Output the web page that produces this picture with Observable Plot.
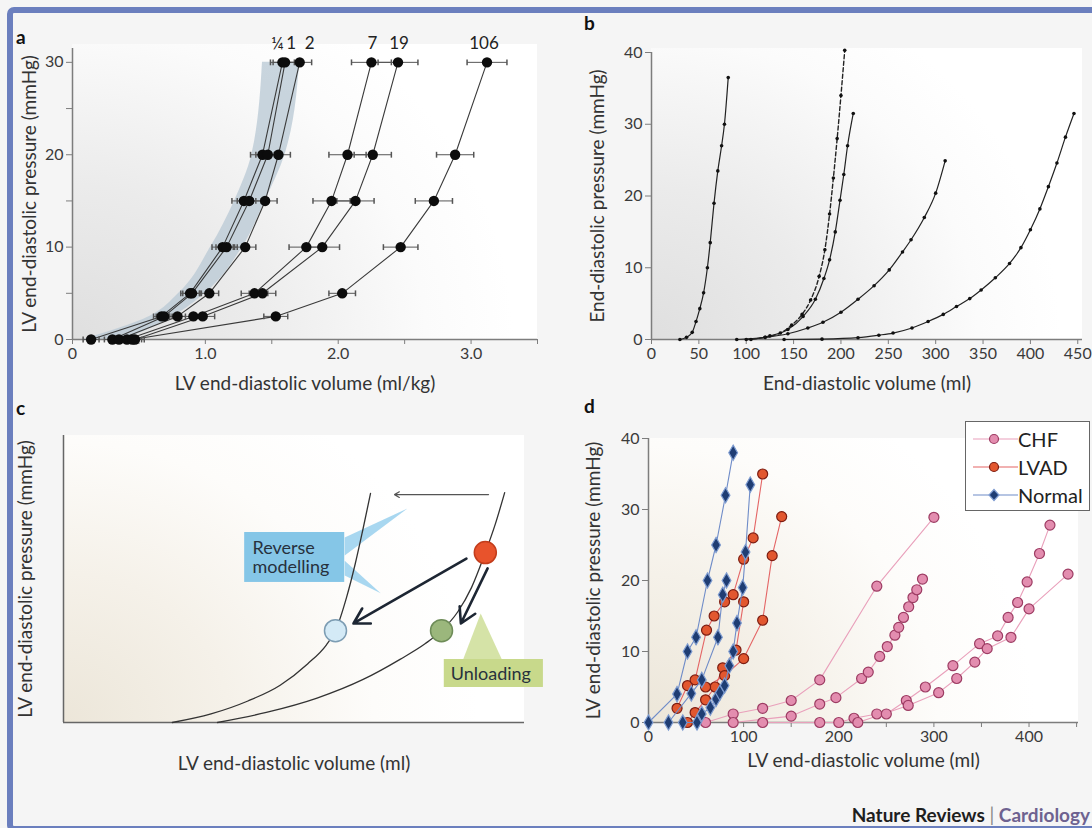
<!DOCTYPE html>
<html>
<head>
<meta charset="utf-8">
<script src="https://cdn.jsdelivr.net/npm/d3@7"></script>
<script src="https://cdn.jsdelivr.net/npm/@observablehq/plot@0.6"></script>
<style>
  html,body{margin:0;padding:0;background:#fff;}
  #root{position:relative;width:1092px;height:828px;overflow:hidden;background:#f5f5f5;font-family:Lato,"Open Sans",sans-serif;}
  #frame{position:absolute;left:7px;top:7px;width:1110px;height:813px;border:6px solid #6b7fbe;border-radius:7px;pointer-events:none;}
  .bg{position:absolute;}
  .panel{position:absolute;}
  .panel svg{overflow:visible;}
  .tag{position:absolute;font-weight:700;font-size:19px;color:#111;line-height:1;}
  #legend{position:absolute;left:965px;top:421px;width:123px;height:88px;border:1px solid #666;background:#fff;}
  .lrow{position:absolute;left:0;height:28px;display:flex;align-items:center;font-size:20px;color:#222;}
  #footer{position:absolute;right:2px;top:803px;font-size:19px;font-weight:700;white-space:nowrap;}
</style>
</head>
<body>
<div id="root">
  <div class="bg" style="left:72px;top:44px;width:465px;height:295px;background:radial-gradient(ellipse 95% 130% at 0% 100%,#dfdfdf 0%,#ebebeb 40%,#fbfbfb 80%,#ffffff 100%);"></div>
  <div class="bg" style="left:651px;top:48px;width:431px;height:291px;background:radial-gradient(ellipse 95% 130% at 0% 100%,#dfdfdf 0%,#ebebeb 40%,#fbfbfb 80%,#ffffff 100%);"></div>
  <div class="bg" style="left:63px;top:435px;width:461px;height:287px;background:radial-gradient(ellipse 90% 130% at 0% 100%,#ece6d9 0%,#f5f1e9 40%,#fdfcfa 75%,#ffffff 100%);"></div>
  <div class="bg" style="left:648px;top:438px;width:430px;height:284px;background:radial-gradient(ellipse 90% 130% at 0% 100%,#ece6d9 0%,#f5f1e9 40%,#fdfcfa 75%,#ffffff 100%);"></div>
  <div class="panel" id="pa" style="left:0;top:0;"></div>
  <div class="panel" id="pb" style="left:560px;top:0;"></div>
  <div class="panel" id="pc" style="left:0;top:400px;"></div>
  <div class="panel" id="pd" style="left:560px;top:400px;"></div>
  <div class="tag" style="left:16px;top:27px;">a</div>
  <div class="tag" style="left:584px;top:13px;">b</div>
  <div class="tag" style="left:16px;top:398px;">c</div>
  <div class="tag" style="left:584px;top:396px;">d</div>
  <div id="legend"></div>
  <div id="footer"><span style="color:#1e1e1e">Nature Reviews</span> <span style="color:#8a8a8a;font-weight:400">|</span> <span style="color:#6e6290">Cardiology</span></div>
  <div id="frame"></div>
</div>
<script>
// ---------------- Panel a data ----------------
const aPressures = [0, 2.5, 5, 10, 15, 20, 30];
const aSeriesLabels = ["¼", "1", "2", "7", "19", "106"];
const aQuarter  = [0.14, 0.67, 0.885, 1.13, 1.29, 1.43, 1.58];
const aOne      = [0.30, 0.69, 0.90, 1.16, 1.33, 1.47, 1.60];
const aTwo      = [0.35, 0.79, 1.03, 1.30, 1.45, 1.55, 1.71];
const aSeven    = [0.41, 0.91, 1.37, 1.76, 1.95, 2.07, 2.25];
const aNineteen = [0.47, 0.98, 1.43, 1.88, 2.13, 2.26, 2.45];
const aHundred  = [0.45, 1.53, 2.03, 2.47, 2.72, 2.88, 3.12];
const aErrSmall = [0.06, 0.06, 0.07, 0.08, 0.09, 0.09, 0.09];
const aErrLarge = [0.07, 0.09, 0.10, 0.13, 0.14, 0.14, 0.15];
const aBandLow  = [0.08, 0.58, 0.80, 1.04, 1.22, 1.35, 1.43];
const aBandHigh = [0.40, 0.76, 1.00, 1.28, 1.45, 1.60, 1.71];
const aXTicks = [0, 0.5, 1, 1.5, 2, 2.5, 3, 3.5];
const aYTicks = [0, 5, 10, 15, 20, 25, 30];

// ---------------- Panel b data ----------------
const bNormal   = [[30,0],[37,0.3],[43,1],[47,2.5],[51,4.3],[55,6.5],[59,10],[62,13.5],[66,19],[70,23.5],[74,27],[77,30],[81,36.5]];
const bDashed   = [[100,0],[120,0.3],[136,0.9],[148,2],[159,3.5],[168,5.5],[177,8.8],[183,12.5],[188,17.5],[192,22.5],[196,28],[200,34],[204,40.3]];
const bMid      = [[105,0],[125,0.5],[144,1.4],[160,3.2],[173,5.6],[182,8.5],[188,11.1],[194,15],[199,19.4],[203,23],[207,27],[213,31.5]];
const bDilated  = [[90,0],[120,0.3],[144,0.8],[165,1.6],[181,2.4],[200,3.8],[218,5.6],[235,7.5],[251,9.7],[265,12.2],[274,13.9],[288,17],[300,20.4],[310,24.9]];
const bSevere   = [[140,0],[180,0.05],[218,0.25],[240,0.6],[255,0.9],[275,1.6],[292,2.5],[308,3.5],[322,4.6],[336,5.7],[348,6.9],[363,8.6],[378,10.6],[390,12.8],[400,15.3],[410,18.2],[419,21.3],[428,24.6],[437,28.2],[446,31.5]];
const bXTicks = [0,50,100,150,200,250,300,350,400,450];
const bYTicks = [0,10,20,30,40];

// ---------------- Panel c data (schematic units) ----------------
const cRemodelled = [[23.6,0],[32,3],[40,7.5],[47,13],[53,20.5],[57,27],[59,32],[61.4,43.6],[63.3,55.4],[64.9,66.9],[66.6,79.8]];
const cFailing    = [[33.4,0],[44,3.5],[55,8.5],[65,15],[73,22],[78.5,27.5],[82,32],[85.5,38.5],[88.5,47],[91.5,59.2],[93.7,69.3],[95.7,80.1]];
const cStates     = [{name:"failing", x:91.5, y:59.2}, {name:"remodelled", x:59, y:32}, {name:"unloaded", x:82, y:32}];
const cShiftArrow = [{x1:92.2, y1:79.4, x2:71.8, y2:79.4}];
const cBoldArrows = [{x1:87.4, y1:57.1, x2:62.9, y2:34.5}, {x1:92, y1:53.7, x2:86.2, y2:34.5}];
const cBoxes      = [{name:"Reverse\nmodelling", x1:39.3, x2:61, y1:48.8, y2:66.2, tx:41.0, ty:57.6},
                     {name:"Unloading", x1:82.6, x2:104.1, y1:12.2, y2:21.95, tx:84.0, ty:16.9}];
const cWedgeUp    = [[61,64.5],[61,58.2],[74.6,74.6]];
const cWedgeDown  = [[61,56.4],[61,51.2],[68.8,45]];
const cWedgeGreen = [[86.6,21.6],[95.2,21.6],[90.5,38]];

// ---------------- Panel d data ----------------
const dNormal1 = [[0,0],[30,4],[41,10],[50,12],[62,20],[71,25],[81,32],[89,38]];
const dNormal2 = [[21,0],[45,4.1],[56,6],[73,12],[78,18],[82,20]];
const dNormal3 = [[36,0],[51,0],[56,1.2],[65,2.1],[71,3.3],[75,4.2],[80,5.2],[85,8],[89,10],[93,14],[99,19],[102,24],[107,33.5]];
const dLvad1 = [[30,2],[41,5.2],[49,6],[61,13],[69,15],[80,17],[89,18],[100,23],[110,26],[120,35]];
const dLvad2 = [[41,0],[49,1.4],[60,3.2],[70,5],[78,7.7],[92,10.2],[100,17]];
const dLvad3 = [[60,5],[80,6.6],[100,9],[120,14.4],[130,23.5],[140,29]];
const dChf1 = [[60,0],[89,1.2],[120,2],[150,3.1],[180,6],[240,19.2],[300,28.9]];
const dChf2 = [[89,0],[150,0.9],[180,2.6],[197,3.5],[224,6.2],[231,7.1],[243,9.3],[251,10.7],[259,12.3],[263,13.4],[268,14.8],[273.5,16.3],[278,17.6],[282,18.7],[288,20.2]];
const dChf3 = [[120,0],[180,0],[200,0],[216,0.6],[240,1.2],[250,1.2],[271,3.1],[291,5],[320,8],[348,11.1],[367,12.2],[378,14.8],[388,16.9],[398,19.8],[411,23.8],[422,27.8]];
const dChf4 = [[220,0],[273,2.4],[305,4.2],[324,6.2],[343,8.5],[356,10.4],[381,12],[400,16],[441,20.9]];
const dGroups = ["CHF", "LVAD", "Normal"];
const dXTicks = [0,50,100,150,200,250,300,350,400,450];
const dYTicks = [0,10,20,30,40];

// ---------------- helpers ----------------
const FONT = "Lato, 'Open Sans', sans-serif";
const AX = "#7d7d7d";
const TXT = "#3a3a3a";
const TICKFS = "16px";
const toRows = (pts, s) => pts.map(([x, y]) => ({x, y, s}));
const capSymbol = {draw(ctx, size) { const h = Math.sqrt(size) * 0.55; ctx.moveTo(0, -h); ctx.lineTo(0, h); }};
const xLabel = (t, dy) => Plot.text([t], {frameAnchor: "bottom", dy, fontSize: 19, fill: "#333", lineAnchor: "middle", textAnchor: "middle"});
const yLabel = (t, dx) => Plot.text([t], {frameAnchor: "left", dx, rotate: -90, fontSize: 19, fill: "#333", lineAnchor: "middle", textAnchor: "middle"});

// ---------------- Panel a ----------------
const aSeries = [aQuarter, aOne, aTwo, aSeven, aNineteen, aHundred];
const aErr = [aErrSmall, aErrSmall, aErrSmall, aErrLarge, aErrLarge, aErrLarge];
const aRows = aSeries.flatMap((vals, i) => vals.map((v, j) => ({s: aSeriesLabels[i], v, p: aPressures[j], e: aErr[i][j]})));
const aBand = aPressures.map((p, j) => ({p, lo: aBandLow[j], hi: aBandHigh[j]}));
const aTop = aSeries.map((vals, i) => ({s: aSeriesLabels[i], v: vals[vals.length - 1], p: aPressures[aPressures.length - 1]}));
const aLabelDx = [-5, 6, 10, 1, 1, -3];

const plotA = Plot.plot({
  width: 560, height: 400,
  marginLeft: 72, marginRight: 23, marginTop: 48, marginBottom: 61,
  style: {background: "transparent", fontFamily: FONT, fontSize: TICKFS, color: TXT, overflow: "visible"},
  x: {domain: [0, 3.5]},
  y: {domain: [0, 31.5]},
  marks: [
    Plot.areaX(aBand, {y: "p", x1: "lo", x2: "hi", curve: "monotone-y", fill: "#bccad6", fillOpacity: 0.8}),
    Plot.ruleY([0], {stroke: AX, strokeWidth: 1.5}),
    Plot.ruleX([0], {stroke: AX, strokeWidth: 1.5}),
    Plot.axisX({ticks: aXTicks, tickSize: 5, tickPadding: 3, stroke: AX, fill: TXT, label: null,
      tickFormat: d => d === 0 ? "0" : (Number.isInteger(d) ? d.toFixed(1) : "")}),
    Plot.axisY({ticks: aYTicks, tickSize: 6, tickPadding: 3, stroke: AX, fill: TXT, label: null,
      tickFormat: d => d % 10 === 0 ? String(d) : ""}),
    Plot.line(aRows, {x: "v", y: "p", z: "s", stroke: "#3a3a3a", strokeWidth: 1.1}),
    Plot.link(aRows, {x1: d => d.v - d.e, x2: d => d.v + d.e, y1: "p", y2: "p", stroke: "#555", strokeWidth: 1}),
    Plot.dot(aRows, {x: d => d.v - d.e, y: "p", symbol: capSymbol, r: 3, stroke: "#555", fill: "none"}),
    Plot.dot(aRows, {x: d => d.v + d.e, y: "p", symbol: capSymbol, r: 3, stroke: "#555", fill: "none"}),
    Plot.dot(aRows, {x: "v", y: "p", r: 5.2, fill: "#0c0c0c", stroke: "none"}),
    ...aTop.map((d, i) => Plot.text([d], {x: "v", y: "p", text: "s", dy: -19, dx: aLabelDx[i], fontSize: 17, fill: "#222"})),
    xLabel("LV end-diastolic volume (ml/kg)", 44),
    yLabel("LV end-diastolic pressure (mmHg)", -43)
  ]
});
document.getElementById("pa").appendChild(plotA);

// ---------------- Panel b ----------------
const bAll = [
  ...toRows(bNormal, "normal"), ...toRows(bMid, "mid"), ...toRows(bDilated, "dilated"), ...toRows(bSevere, "severe")
];
const plotB = Plot.plot({
  width: 532, height: 400,
  marginLeft: 91, marginRight: 10, marginTop: 52, marginBottom: 61,
  style: {background: "transparent", fontFamily: FONT, fontSize: TICKFS, color: TXT, overflow: "visible"},
  x: {domain: [0, 455]},
  y: {domain: [0, 40]},
  marks: [
    Plot.ruleY([0], {stroke: AX, strokeWidth: 1.5}),
    Plot.ruleX([0], {stroke: AX, strokeWidth: 1.5}),
    Plot.axisX({ticks: bXTicks, tickSize: 5, tickPadding: 3, stroke: AX, fill: TXT, label: null}),
    Plot.axisY({ticks: bYTicks, tickSize: 6, tickPadding: 3, stroke: AX, fill: TXT, label: null}),
    Plot.line(bAll, {x: "x", y: "y", z: "s", curve: "monotone-x", stroke: "#222", strokeWidth: 1.2}),
    Plot.line(toRows(bDashed, "dashed"), {x: "x", y: "y", curve: "monotone-x", stroke: "#222", strokeWidth: 1.4, strokeDasharray: "4,2.5"}),
    Plot.dot([...bAll, ...toRows(bDashed, "dashed")], {x: "x", y: "y", r: 1.8, fill: "#111", stroke: "none"}),
    xLabel("End-diastolic volume (ml)", 44),
    yLabel("End-diastolic pressure (mmHg)", -54)
  ]
});
document.getElementById("pb").appendChild(plotB);

// ---------------- Panel c ----------------
const stateFill = {failing: "#e8532c", remodelled: "#d4eaf6", unloaded: "#9bb77c"};
const stateStroke = {failing: "#c33d1c", remodelled: "#7d9db3", unloaded: "#6e8c58"};
const plotC = Plot.plot({
  width: 560, height: 420,
  marginLeft: 63, marginRight: 36, marginTop: 35, marginBottom: 98,
  style: {background: "transparent", fontFamily: FONT, fontSize: TICKFS, color: TXT, overflow: "visible"},
  x: {domain: [0, 100], axis: null},
  y: {domain: [0, 100], axis: null},
  marks: [
    Plot.line(toRows(cWedgeUp, "u"), {x: "x", y: "y", fill: "#9fd3ee", stroke: "none", fillOpacity: 0.9}),
    Plot.line(toRows(cWedgeDown, "d"), {x: "x", y: "y", fill: "#9fd3ee", stroke: "none", fillOpacity: 0.9}),
    Plot.line(toRows(cWedgeGreen, "g"), {x: "x", y: "y", fill: "#d3e1a2", stroke: "none", fillOpacity: 0.95}),
    Plot.rect([cBoxes[0]], {x1: "x1", x2: "x2", y1: "y1", y2: "y2", fill: "#85c6e7"}),
    Plot.rect([cBoxes[1]], {x1: "x1", x2: "x2", y1: "y1", y2: "y2", fill: "#c8d98b"}),
    Plot.ruleY([0], {stroke: "#666", strokeWidth: 1.5}),
    Plot.ruleX([0], {stroke: "#666", strokeWidth: 1.5}),
    Plot.line(toRows(cRemodelled, "r"), {x: "x", y: "y", curve: "monotone-x", stroke: "#333", strokeWidth: 1.3}),
    Plot.line(toRows(cFailing, "f"), {x: "x", y: "y", curve: "monotone-x", stroke: "#333", strokeWidth: 1.3}),
    Plot.arrow(cShiftArrow, {x1: "x1", y1: "y1", x2: "x2", y2: "y2", stroke: "#555", strokeWidth: 1.2, headLength: 7}),
    Plot.arrow(cBoldArrows, {x1: "x1", y1: "y1", x2: "x2", y2: "y2", stroke: "#1d2633", strokeWidth: 2.6, headLength: 10}),
    Plot.dot(cStates, {x: "x", y: "y", r: 11, fill: d => stateFill[d.name], stroke: d => stateStroke[d.name], strokeWidth: 1.5}),
    Plot.text(cBoxes, {x: "tx", y: "ty", text: "name", textAnchor: "start", fontSize: 18, fill: "#27313d", lineHeight: 1.05}),
    xLabel("LV end-diastolic volume (ml)", 41),
    yLabel("LV end-diastolic pressure (mmHg)", -38)
  ]
});
document.getElementById("pc").appendChild(plotC);

// ---------------- Panel d ----------------
const dStyle = {
  CHF:    {line: "#e9a0bb", fill: "#e38daf", stroke: "#9d3c63", symbol: "circle", r: 5},
  LVAD:   {line: "#e46565", fill: "#e2572f", stroke: "#7c1d12", symbol: "circle", r: 5},
  Normal: {line: "#6f8cc8", fill: "#1f3d73", stroke: "#7d9bd0", symbol: "diamond", r: 4.6}
};
const dSets = [
  ["CHF", [dChf1, dChf2, dChf3, dChf4]],
  ["LVAD", [dLvad1, dLvad2, dLvad3]],
  ["Normal", [dNormal1, dNormal2, dNormal3]]
];
const dMarks = [];
for (const [g, list] of dSets) {
  const rows = list.flatMap((pts, i) => pts.map(([x, y]) => ({x, y, s: g + i})));
  const st = dStyle[g];
  dMarks.push(Plot.line(rows, {x: "x", y: "y", z: "s", stroke: st.line, strokeWidth: 1.1}));
  dMarks.push(Plot.dot(rows, {x: "x", y: "y", r: st.r, symbol: st.symbol, fill: st.fill, stroke: st.stroke, strokeWidth: 1.2}));
}
const plotD = Plot.plot({
  width: 532, height: 400,
  marginLeft: 88, marginRight: 14, marginTop: 38, marginBottom: 78,
  style: {background: "transparent", fontFamily: FONT, fontSize: TICKFS, color: TXT, overflow: "visible"},
  x: {domain: [0, 452]},
  y: {domain: [0, 40]},
  marks: [
    Plot.ruleY([0], {stroke: AX, strokeWidth: 1.5}),
    Plot.ruleX([0], {stroke: AX, strokeWidth: 1.5}),
    Plot.axisX({ticks: dXTicks, tickSize: 5, tickPadding: 3, stroke: AX, fill: TXT, label: null,
      tickFormat: d => d % 100 === 0 ? String(d) : ""}),
    Plot.axisY({ticks: dYTicks, tickSize: 6, tickPadding: 3, stroke: AX, fill: TXT, label: null}),
    ...dMarks,
    xLabel("LV end-diastolic volume (ml)", 38),
    yLabel("LV end-diastolic pressure (mmHg)", -55)
  ]
});
document.getElementById("pd").appendChild(plotD);

// ---------------- Legend (panel d) ----------------
const legend = document.getElementById("legend");
dGroups.forEach((g, i) => {
  const st = dStyle[g];
  const row = document.createElement("div");
  row.className = "lrow";
  row.style.top = (3 + i * 28) + "px";
  const sym = st.symbol === "diamond"
    ? `<path d="M22,6.5 L27,12 L22,17.5 L17,12 Z" fill="${st.fill}" stroke="${st.stroke}" stroke-width="1.2"/>`
    : `<circle cx="22" cy="12" r="4.5" fill="${st.fill}" stroke="${st.stroke}" stroke-width="1.2"/>`;
  row.innerHTML = `<svg width="46" height="24" style="margin-left:6px"><line x1="1" x2="46" y1="12" y2="12" stroke="${st.line}" stroke-width="1.2"/>${sym}</svg><span>${g}</span>`;
  legend.appendChild(row);
});
</script>
</body>
</html>
